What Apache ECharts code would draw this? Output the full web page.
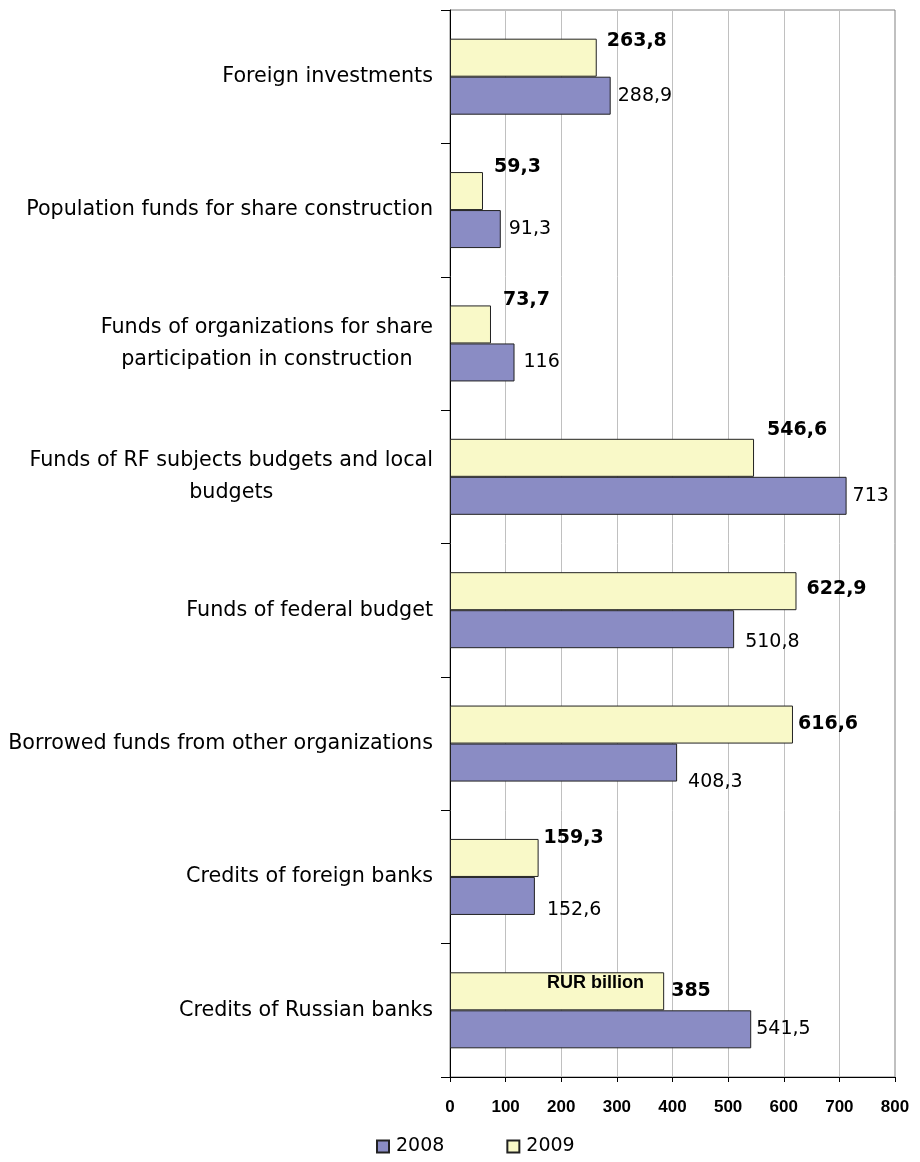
<!DOCTYPE html>
<html>
<head>
<meta charset="utf-8">
<script src="https://cdn.jsdelivr.net/npm/echarts@6/dist/echarts.min.js"></script>
<style>
  html, body { margin: 0; padding: 0; background: #fff; }
  #chart { width: 920px; height: 1162px; }
</style>
</head>
<body>
<div id="chart"></div>
<script>
// categories, top to bottom
const categories = [
  'Foreign investments',
  'Population funds for share construction',
  'Funds of organizations for share\nparticipation in construction',
  'Funds of RF subjects budgets and local\nbudgets',
  'Funds of federal budget',
  'Borrowed funds from other organizations',
  'Credits of foreign banks',
  'Credits of Russian banks'
];
const values2008 = [288.9, 91.3, 116, 713, 510.8, 408.3, 152.6, 541.5];
const values2009 = [263.8, 59.3, 73.7, 546.6, 622.9, 616.6, 159.3, 385];
const xTicks = [0, 100, 200, 300, 400, 500, 600, 700, 800];

// hand placed label offsets, like in the source chart
const offsets2008 = [[2, 0], [3, 0], [4, 0], [1, 0], [6, 13], [6, 19], [7, 14], [0, 0]];
const offsets2009 = [[5, -17], [6, -24], [7, -24], [8, -28], [5, -2], [0, 0], [0, -20], [2, 0]];

const labelFont = 'DejaVu Sans';
const fmt = v => String(v).replace('.', ',');

const chart = echarts.init(document.getElementById('chart'));

const option = {
  animation: false,
  grid: {
    left: 450,
    right: 25,
    top: 10,
    bottom: 85,
    show: true,
    borderColor: '#808080',
    borderWidth: 1
  },
  legend: {
    data: ['2008', '2009'],
    bottom: 1,
    left: 371,
    itemWidth: 12,
    itemHeight: 12,
    itemGap: 62,
    icon: 'rect',
    textStyle: { fontFamily: labelFont, fontSize: 19, color: '#000', padding: [0, 0, 0, 2] }
  },
  xAxis: {
    type: 'value',
    min: 0,
    max: 800,
    interval: 100,
    axisLine: { show: true, lineStyle: { color: '#000', width: 1 } },
    axisTick: { show: true, length: 5, lineStyle: { color: '#000' } },
    axisLabel: {
      margin: 22,
      fontFamily: 'Liberation Sans',
      fontWeight: 'bold',
      fontSize: 17,
      color: '#000',
      formatter: v => xTicks.includes(v) ? String(v) : ''
    },
    splitLine: { show: true, lineStyle: { color: '#c0c0c0', width: 1 } }
  },
  yAxis: {
    type: 'category',
    inverse: true,
    data: categories,
    axisLine: { show: true, lineStyle: { color: '#000', width: 1 } },
    axisTick: { show: true, length: 9, lineStyle: { color: '#000' } },
    axisLabel: {
      margin: 17,
      color: '#000',
      fontFamily: labelFont,
      fontSize: 20.7,
      formatter: v => v.split('\n').map(l => '{c|' + l + '}').join('\n'),
      rich: {
        c: { align: 'center', fontFamily: labelFont, fontSize: 20.7, lineHeight: 32, color: '#000' }
      }
    }
  },
  series: [
    {
      name: '2009',
      type: 'bar',
      barGap: '0%',
      barCategoryGap: '43%',
      itemStyle: { color: '#f9f9c8', borderColor: '#222', borderWidth: 1 },
      label: {
        show: true,
        position: 'right',
        distance: 5,
        fontFamily: labelFont,
        fontWeight: 'bold',
        fontSize: 19,
        color: '#000',
        formatter: p => fmt(p.value)
      },
      data: values2009.map((v, i) => ({ value: v, label: { offset: offsets2009[i] } }))
    },
    {
      name: '2008',
      type: 'bar',
      barGap: '0%',
      barCategoryGap: '43%',
      itemStyle: { color: '#8a8cc4', borderColor: '#222', borderWidth: 1 },
      label: {
        show: true,
        position: 'right',
        distance: 5,
        fontFamily: labelFont,
        fontSize: 19,
        color: '#000',
        formatter: p => fmt(p.value)
      },
      data: values2008.map((v, i) => ({ value: v, label: { offset: offsets2008[i] } }))
    }
  ],
  graphic: [
    {
      type: 'text',
      z: 100,
      left: 547,
      top: 974,
      style: {
        text: 'RUR billion',
        font: 'bold 18px "Liberation Sans"',
        fill: '#000'
      }
    }
  ]
};

chart.setOption(option);
</script>
</body>
</html>
